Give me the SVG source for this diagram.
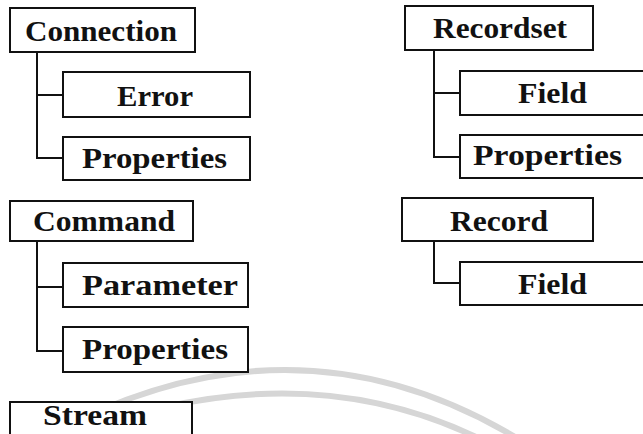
<svg xmlns="http://www.w3.org/2000/svg" width="643" height="434" viewBox="0 0 643 434">
  <style>
    .box { fill: #ffffff; stroke: #111111; stroke-width: 2; }
    .lbl { font-family: "Liberation Serif", "Times New Roman", serif; font-weight: bold; font-size: 30px; fill: #111111; }
    .wire { fill: none; stroke: #111111; stroke-width: 2; }
    .arc { fill: none; stroke: #d6d6d6; stroke-width: 6; }
  </style>
  <rect width="643" height="434" fill="#ffffff"/>

  <!-- background swooshes -->
  <g id="swoosh">
    <path class="arc" d="M40 440 Q290 300 520 440"/>
    <path class="arc" d="M30 452 Q297 335 505 452"/>
  </g>

  <!-- tree connectors -->
  <g id="connectors">
    <path class="wire" d="M37 52 V158 H63 M37 95 H63"/>
    <path class="wire" d="M37 241 V351 H63 M37 287 H63"/>
    <path class="wire" d="M434 50 V157 H460 M434 93 H460"/>
    <path class="wire" d="M434 241 V283 H460"/>
  </g>

  <g id="connection">
    <rect class="box" x="10" y="8" width="185" height="44"/>
    <text class="lbl" x="25" y="41" textLength="152" lengthAdjust="spacingAndGlyphs">Connection</text>
  </g>
  <g id="connection-error">
    <rect class="box" x="63" y="72" width="187" height="45"/>
    <text class="lbl" x="117" y="106" textLength="76" lengthAdjust="spacingAndGlyphs">Error</text>
  </g>
  <g id="connection-properties">
    <rect class="box" x="63" y="137" width="187" height="43"/>
    <text class="lbl" x="82" y="168" textLength="145" lengthAdjust="spacingAndGlyphs">Properties</text>
  </g>

  <g id="command">
    <rect class="box" x="10" y="201" width="183" height="40"/>
    <text class="lbl" x="33" y="231" textLength="142" lengthAdjust="spacingAndGlyphs">Command</text>
  </g>
  <g id="command-parameter">
    <rect class="box" x="63" y="263" width="185" height="44"/>
    <text class="lbl" x="82" y="295" textLength="156" lengthAdjust="spacingAndGlyphs">Parameter</text>
  </g>
  <g id="command-properties">
    <rect class="box" x="63" y="327" width="185" height="45"/>
    <text class="lbl" x="82" y="359" textLength="146" lengthAdjust="spacingAndGlyphs">Properties</text>
  </g>

  <g id="stream">
    <rect class="box" x="10" y="402" width="182" height="44"/>
    <text class="lbl" x="43" y="425" textLength="104" lengthAdjust="spacingAndGlyphs">Stream</text>
  </g>

  <g id="recordset">
    <rect class="box" x="405" y="6" width="188" height="44"/>
    <text class="lbl" x="433" y="38" textLength="134" lengthAdjust="spacingAndGlyphs">Recordset</text>
  </g>
  <g id="recordset-field">
    <rect class="box" x="460" y="71" width="190" height="44"/>
    <text class="lbl" x="518" y="103" textLength="69" lengthAdjust="spacingAndGlyphs">Field</text>
  </g>
  <g id="recordset-properties">
    <rect class="box" x="460" y="135" width="190" height="43"/>
    <text class="lbl" x="473" y="165" textLength="149" lengthAdjust="spacingAndGlyphs">Properties</text>
  </g>

  <g id="record">
    <rect class="box" x="402" y="198" width="191" height="43"/>
    <text class="lbl" x="450" y="231" textLength="98" lengthAdjust="spacingAndGlyphs">Record</text>
  </g>
  <g id="record-field">
    <rect class="box" x="460" y="262" width="190" height="43"/>
    <text class="lbl" x="518" y="294" textLength="69" lengthAdjust="spacingAndGlyphs">Field</text>
  </g>
</svg>
